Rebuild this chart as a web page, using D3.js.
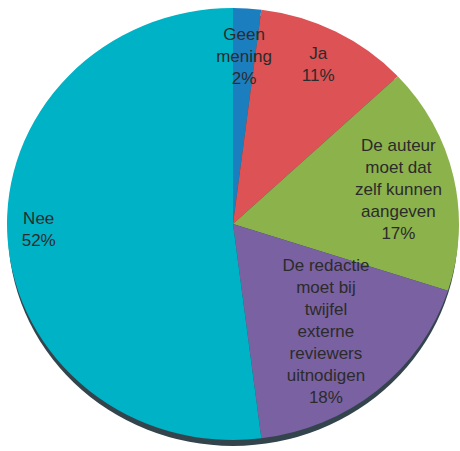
<!DOCTYPE html>
<html>
<head>
<meta charset="utf-8">
<script src="https://cdn.jsdelivr.net/npm/d3@7"></script>
<style>
  body { margin: 0; background: #fff; }
</style>
</head>
<body>
<div id="chart"></div>
<script>
// answers, clockwise from 12 o'clock
var labels = [
  ["Geen", "mening"],
  ["Ja"],
  ["De auteur", "moet dat", "zelf kunnen", "aangeven"],
  ["De redactie", "moet bij", "twijfel", "externe", "reviewers", "uitnodigen"],
  ["Nee"]
];
var values = [2, 11, 17, 18, 52];
var colors = ["#1b7fbf", "#dc5255", "#8cb24c", "#7a61a2", "#00b2c6"];

var w = 460;
var h = 451;
var cx = 233, cy = 224;
var rx = 226, ry = 216;
// how far out (fraction of radius) each label sits
var labelR = [0.78, 0.83, 0.75, 0.645, 0.86];

var svg = d3.select("#chart")
            .append("svg")
            .attr("width", w)
            .attr("height", h);

var pie = d3.pie().sort(null).value(function(d) { return d; });
var arcs = pie(values);

var arc = d3.arc()
            .innerRadius(0)
            .outerRadius(rx);

// dark rim underneath
svg.append("ellipse")
   .attr("cx", cx)
   .attr("cy", cy + 6)
   .attr("rx", rx - 1)
   .attr("ry", ry)
   .attr("fill", "#33444c");

var g = svg.append("g")
           .attr("transform", "translate(" + cx + "," + cy + ") scale(1," + (ry / rx) + ")");

g.selectAll("path")
  .data(arcs)
  .enter()
  .append("path")
  .attr("d", arc)
  .attr("fill", function(d, i) { return colors[i]; });

var lh = 22;
svg.selectAll("text.lbl")
  .data(arcs)
  .enter()
  .append("text")
  .attr("class", "lbl")
  .attr("text-anchor", "middle")
  .attr("font-family", "Liberation Sans, Arial, sans-serif")
  .attr("font-size", 17)
  .attr("fill", "#2b2b2b")
  .each(function(d, i) {
    var a = (d.startAngle + d.endAngle) / 2;
    if (i == 4) a = a + 0.035;
    var x = cx + Math.sin(a) * labelR[i] * rx;
    var y = cy - Math.cos(a) * labelR[i] * ry;
    var lines = labels[i].concat([d.data + "%"]);
    var y0 = y - (lines.length - 1) * lh / 2 + 6;
    var t = d3.select(this);
    lines.forEach(function(s, k) {
      t.append("tspan")
       .attr("x", x)
       .attr("y", y0 + k * lh)
       .text(s);
    });
  });
</script>
</body>
</html>
